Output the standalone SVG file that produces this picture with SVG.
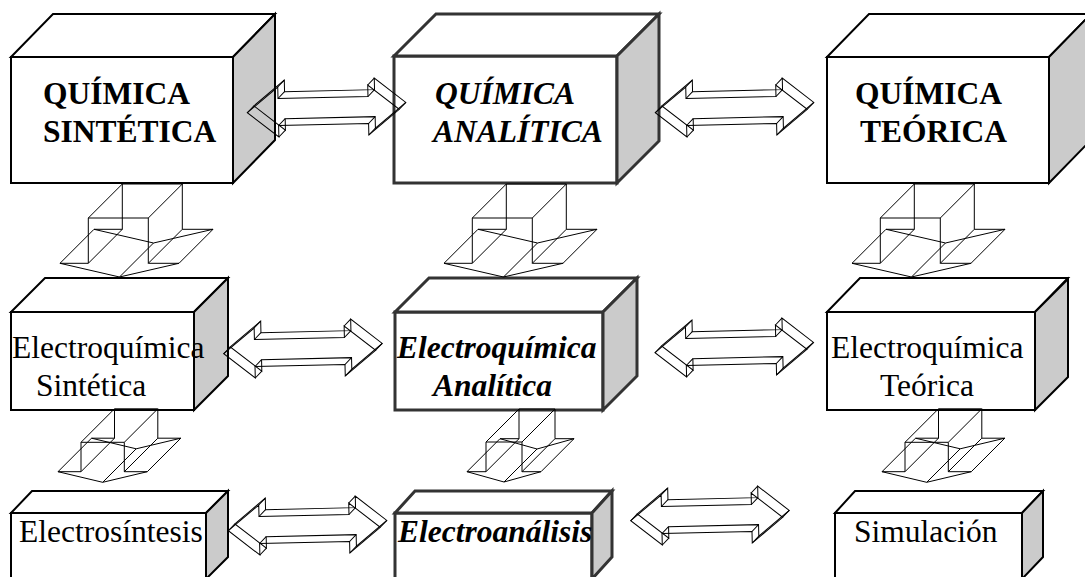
<svg xmlns="http://www.w3.org/2000/svg" xmlns:xlink="http://www.w3.org/1999/xlink" width="1085" height="577" viewBox="0 0 1085 577">
<style>
.f{fill:#fff}
.s{fill:#cbcbcb}
.bx polygon,.bx rect{stroke:#000;stroke-width:2;stroke-linejoin:miter}
.bk polygon,.bk rect{stroke:#333;stroke-width:3;stroke-linejoin:miter}
.wire{fill:none;stroke:#000;stroke-width:1;stroke-linejoin:miter}
.t{font-family:"Liberation Serif","Times New Roman",serif;font-size:31.5px;fill:#000}
.b{font-weight:bold}
.bi{font-weight:bold;font-style:italic}
</style>
<defs>
<g id="dbl">
<path d="M-76,0 L-45,-25 L-45,-13.5 L45,-13.5 L45,-25 L76,0 L45,25 L45,13.5 L-45,13.5 L-45,25 Z"/>
<path d="M-69.3,-6.7 L-38.3,-31.7 L-38.3,-20.2 L51.7,-20.2 L51.7,-31.7 L82.7,-6.7 L51.7,18.3 L51.7,6.8 L-38.3,6.8 L-38.3,18.3 Z"/>
<path d="M-76,0 l6.7,-6.7 M-45,-25 l6.7,-6.7 M-45,-13.5 l6.7,-6.7 M45,-13.5 l6.7,-6.7 M45,-25 l6.7,-6.7 M76,0 l6.7,-6.7 M45,25 l6.7,-6.7 M45,13.5 l6.7,-6.7 M-45,13.5 l6.7,-6.7 M-45,25 l6.7,-6.7"/>
</g>
<g id="down1">
<path d="M0,0 H60 V45.3 H90.7 L31.2,59 L-28.3,45.3 H0 Z"/>
<path d="M34,-34 H94 V11.3 H124.7 L65.2,25 L5.7,11.3 H34 Z"/>
<path d="M0,0 l34,-34 M60,0 l34,-34 M60,45.3 l34,-34 M90.7,45.3 l34,-34 M31.2,59 l34,-34 M-28.3,45.3 l34,-34 M0,45.3 l34,-34"/>
</g>
<g id="down2">
<path d="M0,0 H43.3 V29.4 H66.3 L21.7,40 L-23,29.4 H0 Z"/>
<path d="M33.5,-33.5 H76.8 V-4.1 H99.8 L55.2,6.5 L10.5,-4.1 H33.5 Z"/>
<path d="M0,0 l33.5,-33.5 M43.3,0 l33.5,-33.5 M43.3,29.4 l33.5,-33.5 M66.3,29.4 l33.5,-33.5 M21.7,40 l33.5,-33.5 M-23,29.4 l33.5,-33.5 M0,29.4 l33.5,-33.5"/>
</g>
</defs>
<rect width="1085" height="577" fill="#fff"/>

<g id="node-quimica-sintetica" class="bx">
<rect class="f" x="11" y="57" width="222" height="126"/>
<polygon class="f" points="11,57 53,14 275,14 233,57"/>
<polygon class="s" points="233,57 275,14 275,140 233,183"/>
<text class="t b" x="43" y="104">QUÍMICA</text>
<text class="t b" x="43" y="142">SINTÉTICA</text>
</g>
<g id="node-quimica-analitica" class="bk">
<rect class="f" x="394" y="56" width="223" height="127"/>
<polygon class="f" points="394,56 436,14 659,14 617,56"/>
<polygon class="s" points="617,56 659,14 659,141 617,183"/>
<text class="t bi" x="435" y="104">QUÍMICA</text>
<text class="t bi" x="433" y="142">ANALÍTICA</text>
</g>
<g id="node-quimica-teorica" class="bx">
<rect class="f" x="827" y="57" width="222" height="126"/>
<polygon class="f" points="827,57 869,14 1091,14 1049,57"/>
<polygon class="s" points="1049,57 1091,14 1091,140 1049,183"/>
<text class="t b" x="855" y="104">QUÍMICA</text>
<text class="t b" x="860" y="142">TEÓRICA</text>
</g>

<g id="node-electroquimica-sintetica" class="bx">
<rect class="f" x="11" y="312" width="183" height="98"/>
<polygon class="f" points="11,312 45,278 228,278 194,312"/>
<polygon class="s" points="194,312 228,278 228,376 194,410"/>
<text class="t" x="12" y="358">Electroquímica</text>
<text class="t" x="36" y="396">Sintética</text>
</g>
<g id="node-electroquimica-analitica" class="bk">
<rect class="f" x="395" y="312" width="208" height="98"/>
<polygon class="f" points="395,312 429,278 637,278 603,312"/>
<polygon class="s" points="603,312 637,278 637,376 603,410"/>
<text class="t bi" x="397" y="358">Electroquímica</text>
<text class="t bi" x="433" y="396">Analítica</text>
</g>
<g id="node-electroquimica-teorica" class="bx">
<rect class="f" x="827" y="312" width="208" height="98"/>
<polygon class="f" points="827,312 860,278 1068,278 1035,312"/>
<polygon class="s" points="1035,312 1068,279 1068,377 1035,410"/>
<text class="t" x="831" y="358">Electroquímica</text>
<text class="t" x="880" y="396">Teórica</text>
</g>

<g id="node-electrosintesis" class="bx">
<rect class="f" x="11" y="513" width="195" height="66"/>
<polygon class="f" points="11,513 32,491 228,491 206,513"/>
<polygon class="s" points="206,513 228,491 228,557 206,579"/>
<text class="t" x="19" y="542">Electrosíntesis</text>
</g>
<g id="node-electroanalisis" class="bk">
<rect class="f" x="395" y="513" width="197" height="66"/>
<polygon class="f" points="395,513 415,491 612,491 592,513"/>
<polygon class="s" points="592,513 612,491 612,557 592,579"/>
<text class="t bi" x="398" y="542">Electroanálisis</text>
</g>
<g id="node-simulacion" class="bx">
<rect class="f" x="835" y="513" width="187" height="66"/>
<polygon class="f" points="835,513 855,491 1043,491 1022,513"/>
<polygon class="s" points="1022,513 1043,491 1043,557 1022,579"/>
<text class="t" x="854" y="542">Simulación</text>
</g>

<g id="connectors" class="wire">
<use xlink:href="#dbl" transform="translate(323.3,111) rotate(-1.3)"/>
<use xlink:href="#dbl" transform="translate(731.3,111) rotate(-1.3)"/>
<use xlink:href="#dbl" transform="translate(299.7,352) rotate(-1.3)"/>
<use xlink:href="#dbl" transform="translate(731,351) rotate(-1.3)"/>
<use xlink:href="#dbl" transform="translate(304.3,529) rotate(-1.3)"/>
<use xlink:href="#dbl" transform="translate(706.7,519) rotate(-1.3)"/>
<use xlink:href="#down1" transform="translate(88.3,218)"/>
<use xlink:href="#down1" transform="translate(472.3,218)"/>
<use xlink:href="#down1" transform="translate(880.3,218)"/>
<use xlink:href="#down2" transform="translate(81,442.3)"/>
<use xlink:href="#down2" transform="translate(905,442.3)"/>
<path d="M486,442 H522 V471.7 H541 L504,482 L467,471.7 H486 Z"/>
<path d="M519,409 H555 V438.7 H574 L537,449 L500,438.7 H519 Z"/>
<path d="M486,442 l33,-33 M522,442 l33,-33 M522,471.7 l33,-33 M541,471.7 l33,-33 M504,482 l33,-33 M467,471.7 l33,-33 M486,471.7 l33,-33"/>
</g>
</svg>
